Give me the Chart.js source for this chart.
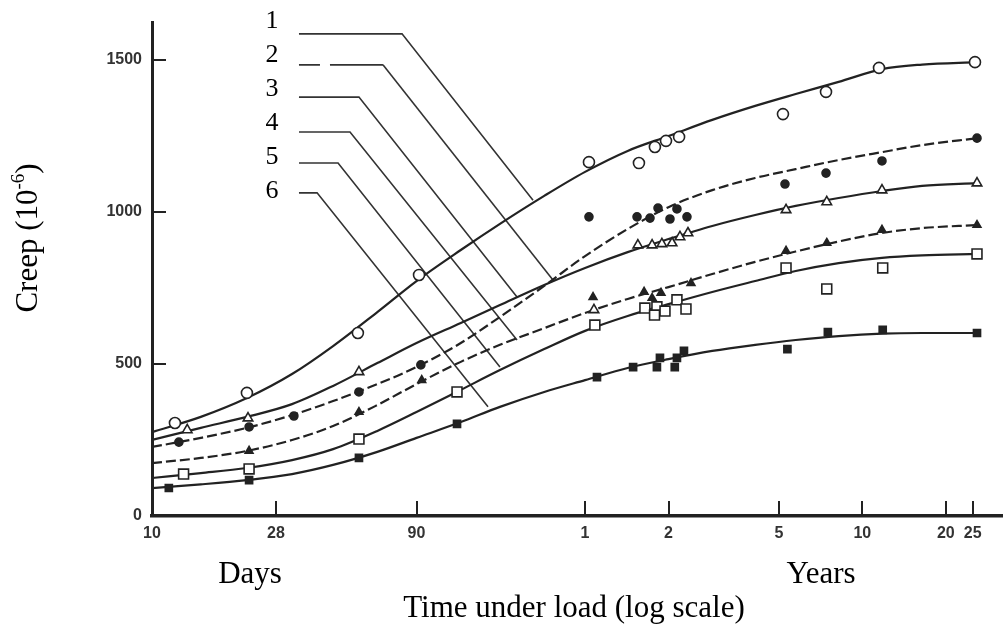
<!DOCTYPE html>
<html><head><meta charset="utf-8">
<script src="https://cdn.jsdelivr.net/npm/chart.js@4.4.1/dist/chart.umd.min.js"></script>
<style>html,body{margin:0;padding:0;background:#fff;}#wrap{width:1003px;height:624px;}</style>
</head><body><div id="wrap"><canvas id="c" width="1003" height="624"></canvas></div>
<script>
// ---- fitted curves (creep, 10^-6) at common times (days) ----
const curveDays = [10,15,22,32,45,65,90,130,180,260,365,520,730,1050,1500,2100,3000,4300,6000,9500];
const curve1 = [276,326,388,467,559,671,773,875,961,1053,1132,1201,1250,1303,1349,1388,1428,1470,1485,1493];
const curve2 = [227,257,290,332,378,434,490,569,655,757,855,944,1016,1072,1112,1141,1171,1197,1220,1243];
const curve3 = [250,290,326,368,428,503,569,635,694,760,816,868,911,954,990,1020,1046,1069,1086,1095];
const curve4 = [174,191,214,250,296,365,434,507,563,618,668,714,753,796,836,870,903,931,947,957];
const curve5 = [125,141,158,184,220,280,342,415,480,549,609,658,697,737,773,806,832,849,857,862];
const curve6 = [92,104,118,138,168,211,257,309,359,408,447,487,516,543,563,579,592,600,602,602];

// ---- measured points ----
const s1Days = [12.1,22,55.3,91.9,377,571,652,715,797,1889,2701,4195,9311];
const s1Vals = [306,405,602,793,1164,1161,1214,1234,1247,1322,1395,1474,1493];
const s2Days = [12.5,22.4,32.5,55.8,93.3,377,562,626,669,739,783,851,1921,2701,4300,9468];
const s2Vals = [243,293,329,408,497,984,984,980,1013,977,1010,984,1092,1128,1168,1243];
const s3Days = [13.4,22.2,55.8,393,566,637,691,752,803,858,1938,2718,4300,9468];
const s3Vals = [283,322,474,678,891,891,895,898,918,931,1007,1033,1072,1095];
const s4Days = [22.4,55.8,94,390,596,637,686,880,1938,2718,4300,9468];
const s4Vals = [214,342,447,720,737,717,734,766,872,898,941,957];
const s5Days = [13.0,22.4,55.8,126,396,600,663,650,709,783,844,1938,2718,4326,9468];
const s5Vals = [138,155,253,408,628,684,688,661,674,711,681,816,747,816,862];
const s6Days = [11.5,22.4,55.8,126,403,544,680,663,783,769,830,1960,2743,4326,9468];
const s6Vals = [92,118,191,303,457,490,520,490,520,490,543,549,605,612,602];

// ---- leader lines (label -> curve) ----
const leaderNames = ['1','2','3','4','5','6'];
const leaderDays = [[33.9,79.8,236.9],[33.9,68.1,279.6],[33.9,55.8,207.4],[33.9,51.8,207.4],[33.9,46.9,180.0],[33.9,39.4,163.0]];
const leaderVals = [[1586,1586,1039],[1484,1484,776],[1378,1378,720],[1263,1263,579],[1161,1161,490],[1063,1063,359]];
const labelDays = [27.1,27.1,27.1,27.1,27.1,27.1];
const labelVals = [1628,1516,1405,1293,1181,1069];

// ---- axes ----
const xTickDays = [10,28,90,365,730,1826,3652,7305,9131];
const xTickLabels = ['10','28','90','1','2','5','10','20','25'];
const yTicks = [0,500,1000,1500];

const INK = '#222';
const pts = (xs, ys) => xs.map((d,i)=>({x:d,y:ys[i]}));

const curves = [curve1,curve2,curve3,curve4,curve5,curve6];
const curveDash = [[],[10,4],[],[10,4],[],[]];
const markerDays = [s1Days,s2Days,s3Days,s4Days,s5Days,s6Days];
const markerVals = [s1Vals,s2Vals,s3Vals,s4Vals,s5Vals,s6Vals];
const markerStyle = [
  {pointStyle:'circle', r:5.5, fill:'#fff'},
  {pointStyle:'circle', r:4, fill:INK},
  {pointStyle:'triangle', r:5.5, fill:'#fff'},
  {pointStyle:'triangle', r:4.5, fill:INK},
  {pointStyle:'rect', r:7, fill:'#fff'},
  {pointStyle:'rect', r:5, fill:INK}
];

const datasets = [];
markerDays.forEach((d,i)=>{
  const st = markerStyle[i];
  datasets.push({type:'scatter', label:'pts'+(i+1), data:pts(d, markerVals[i]), showLine:false,
    pointStyle:st.pointStyle, pointRadius:st.r, pointBackgroundColor:st.fill, pointBorderColor:INK,
    pointBorderWidth:1.6, order:0, clip:false});
});
curves.forEach((c,i)=>{
  datasets.push({type:'line', label:'curve'+(i+1), data:pts(curveDays,c), borderColor:INK, borderWidth:2.2,
    borderDash:curveDash[i], pointRadius:0, cubicInterpolationMode:'monotone', fill:false, order:1});
});
leaderDays.forEach((d,i)=>{
  datasets.push({type:'line', label:'leader'+leaderNames[i], data:pts(d, leaderVals[i]), borderColor:'#333', borderWidth:1.6,
    pointRadius:0, tension:0, fill:false, order:2,
    segment: i===1 ? {borderDash: ctx => ctx.p0DataIndex===0 ? [21,10,100,10] : undefined} : undefined});
});

const decor = {
  id:'decor',
  afterDraw(chart){
    const {ctx, scales:{x,y}, chartArea:a} = chart;
    ctx.save();
    ctx.strokeStyle = INK; ctx.lineWidth = 2;
    yTicks.forEach(v=>{ if(v===0) return; const py=Math.round(y.getPixelForValue(v));
      ctx.beginPath(); ctx.moveTo(a.left, py); ctx.lineTo(a.left+14, py); ctx.stroke(); });
    xTickDays.forEach((v,i)=>{ if(i===0) return; const px=Math.round(x.getPixelForValue(v));
      ctx.beginPath(); ctx.moveTo(px, a.bottom); ctx.lineTo(px, a.bottom-15); ctx.stroke(); });
    // curve labels
    ctx.fillStyle = '#000';
    ctx.font = '26px "Liberation Serif", "Times New Roman", serif';
    ctx.textAlign = 'center'; ctx.textBaseline = 'middle';
    leaderNames.forEach((t,i)=> ctx.fillText(t, x.getPixelForValue(labelDays[i]), y.getPixelForValue(labelVals[i])));
    // axis texts
    ctx.font = '31px "Liberation Serif", "Times New Roman", serif';
    ctx.textBaseline = 'alphabetic';
    ctx.fillText('Days', 250, 583);
    ctx.fillText('Years', 821, 583);
    ctx.fillText('Time under load (log scale)', 574, 617);
    // y title with superscript
    ctx.save();
    const main1 = 'Creep (10', sup = '-6', main2 = ')';
    ctx.font = '31px "Liberation Serif", "Times New Roman", serif';
    const w1 = ctx.measureText(main1).width, w3 = ctx.measureText(main2).width;
    ctx.font = '19px "Liberation Serif", "Times New Roman", serif';
    const w2 = ctx.measureText(sup).width;
    const total = w1+w2+w3;
    ctx.translate(37, 238);
    ctx.rotate(-Math.PI/2);
    ctx.textAlign = 'left';
    let sx = -total/2;
    ctx.font = '31px "Liberation Serif", "Times New Roman", serif';
    ctx.fillText(main1, sx, 0); sx += w1;
    ctx.font = '19px "Liberation Serif", "Times New Roman", serif';
    ctx.fillText(sup, sx, -13); sx += w2;
    ctx.font = '31px "Liberation Serif", "Times New Roman", serif';
    ctx.fillText(main2, sx, 0);
    ctx.restore();
    ctx.restore();
  }
};

new Chart(document.getElementById('c'), {
  type:'line',
  data:{datasets},
  options:{
    responsive:false, animation:false, events:[],
    layout:{autoPadding:false, padding:{left:0, right:0, top:22, bottom:0}},
    plugins:{legend:{display:false}, tooltip:{enabled:false}},
    scales:{
      x:{type:'logarithmic', position:'bottom', min:10, max:11750,
        afterBuildTicks:s=>{ s.ticks = xTickDays.map(v=>({value:v})); },
        afterFit:s=>{ s.height = 108; s.paddingLeft = 0; s.paddingRight = 0; },
        grid:{display:false, drawTicks:false},
        border:{display:true, width:3.5, color:INK},
        ticks:{autoSkip:false, maxRotation:0, padding:8, color:'#333',
          font:{family:'"Liberation Sans", Arial, sans-serif', size:16, weight:'bold'},
          callback:(v,i)=>xTickLabels[i]}
      },
      y:{type:'linear', min:0, max:1625,
        afterBuildTicks:s=>{ s.ticks = yTicks.map(v=>({value:v})); },
        afterFit:s=>{ s.width = 152; s.paddingTop = 0; s.paddingBottom = 0; },
        grid:{display:false, drawTicks:false},
        border:{display:true, width:3, color:INK},
        ticks:{padding:10, color:'#333',
          font:{family:'"Liberation Sans", Arial, sans-serif', size:16, weight:'bold'},
          callback:v=>String(v)}
      }
    }
  },
  plugins:[decor]
});
</script></body></html>
